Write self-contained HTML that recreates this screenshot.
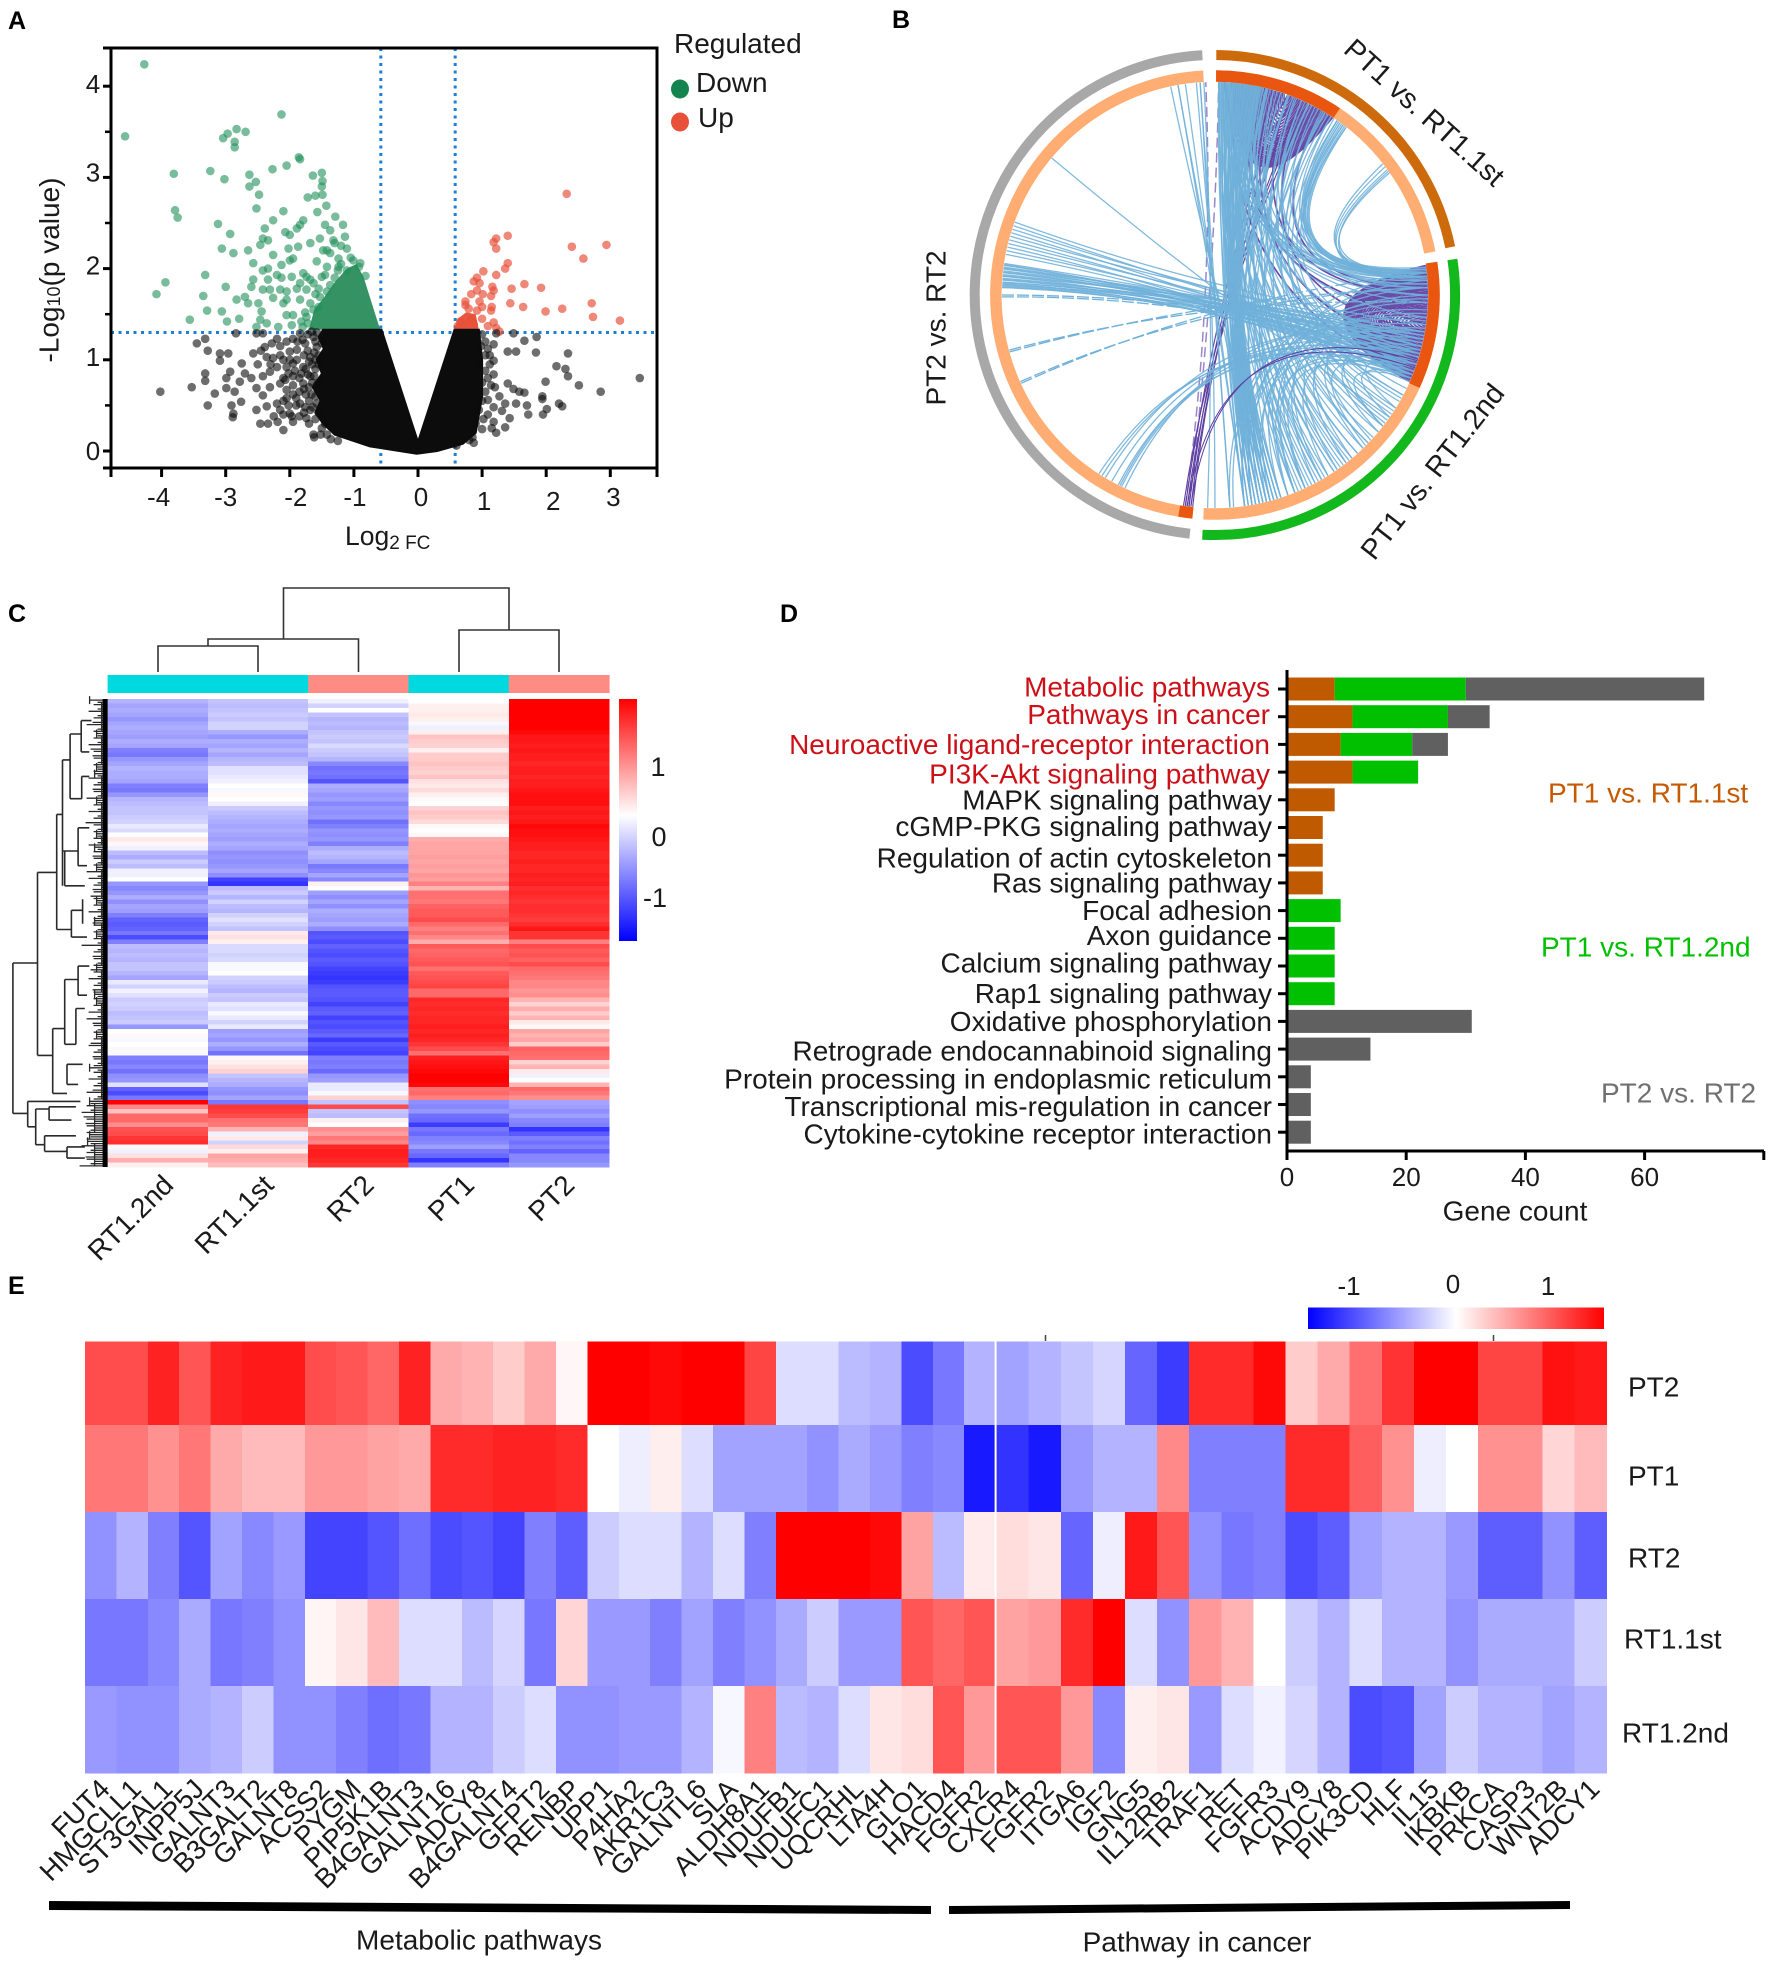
<!DOCTYPE html>
<html lang="en">
<head>
<meta charset="utf-8">
<title>Multi-panel transcriptome figure</title>
<style>
html,body{margin:0;padding:0;background:#fff;}
svg{display:block;}
text{font-family:"Liberation Sans",sans-serif;fill:#1a1a1a;}
.letter{font-weight:bold;font-size:25px;fill:#000;}
</style>
</head>
<body>
<svg id="figure" xmlns="http://www.w3.org/2000/svg" width="1772" height="1963" viewBox="0 0 1772 1963">
<defs>
<linearGradient id="barC" x1="0" y1="0" x2="0" y2="1"><stop offset="0" stop-color="#ff0000"/><stop offset="0.48" stop-color="#ffffff"/><stop offset="1" stop-color="#0000ff"/></linearGradient>
<linearGradient id="barE" x1="0" y1="0" x2="1" y2="0"><stop offset="0" stop-color="#0000ff"/><stop offset="0.5" stop-color="#ffffff"/><stop offset="1" stop-color="#ff0000"/></linearGradient>
</defs>
<rect x="0" y="0" width="1772" height="1963" fill="#fff"/>
<text class="letter" x="8" y="29">A</text>
<text class="letter" x="892" y="28">B</text>
<text class="letter" x="8" y="622">C</text>
<text class="letter" x="780" y="622">D</text>
<text class="letter" x="8" y="1294">E</text>

<g id="panelA">
  <text x="49" y="270" font-size="28" text-anchor="middle" dominant-baseline="central" transform="rotate(-90 49 270)">-Log<tspan font-size="18" dy="5">10</tspan><tspan dy="-5">(p value)</tspan></text>
  <text x="345" y="545" font-size="26.5">Log<tspan font-size="19" dy="4">2 FC</tspan></text>
  <text x="674" y="53" font-size="28">Regulated</text>
  <ellipse cx="680" cy="89" rx="9" ry="9.5" fill="#14834f"/>
  <text x="696" y="92" font-size="28">Down</text>
  <ellipse cx="680" cy="122" rx="9" ry="9.5" fill="#e8503a"/>
  <text x="698" y="127" font-size="28">Up</text>
</g>
<g id="panelB">
  <text x="1424" y="113" font-size="28.5" text-anchor="middle" dominant-baseline="central" transform="rotate(42 1424 113)">PT1 vs. RT1.1st</text>
  <text x="1433" y="472" font-size="28.5" text-anchor="middle" dominant-baseline="central" transform="rotate(-52 1433 472)">PT1 vs. RT1.2nd</text>
  <text x="936" y="328" font-size="28" text-anchor="middle" dominant-baseline="central" transform="rotate(-90 936 328)">PT2 vs. RT2</text>
</g>
<g id="panelC">
  <rect x="619" y="699" width="18" height="242" fill="url(#barC)"/>
  <text x="658" y="767" font-size="27" text-anchor="middle" dominant-baseline="central">1</text>
  <text x="659" y="837" font-size="27" text-anchor="middle" dominant-baseline="central">0</text>
  <text x="655" y="898" font-size="27" text-anchor="middle" dominant-baseline="central">-1</text>
</g>
<g id="panelD">
  <text x="1515" y="1211" font-size="28" text-anchor="middle" dominant-baseline="central">Gene count</text>
  <text x="1548" y="793" font-size="28" style="fill:#c55a00" dominant-baseline="central">PT1 vs. RT1.1st</text>
  <text x="1541" y="947" font-size="28" style="fill:#00c000" dominant-baseline="central">PT1 vs. RT1.2nd</text>
  <text x="1601" y="1093" font-size="28" style="fill:#707070" dominant-baseline="central">PT2 vs. RT2</text>
</g>
<g id="panelE">
  <rect x="1308" y="1307.5" width="296" height="21.5" fill="url(#barE)"/>
  <text x="1349" y="1286" font-size="26" text-anchor="middle" dominant-baseline="central">-1</text>
  <text x="1453" y="1284" font-size="26" text-anchor="middle" dominant-baseline="central">0</text>
  <text x="1548" y="1286" font-size="26" text-anchor="middle" dominant-baseline="central">1</text>
  <line x1="1045.5" y1="1335" x2="1045.5" y2="1341" stroke="#444" stroke-width="1.5"/>
  <line x1="1493.5" y1="1335" x2="1493.5" y2="1341" stroke="#444" stroke-width="1.5"/>
  <polygon points="49,1901 931,1906 931,1914 49,1910" fill="#000"/>
  <polygon points="949,1906 1570,1901 1570,1909 949,1914" fill="#000"/>
  <text x="479" y="1940" font-size="28" text-anchor="middle" dominant-baseline="central">Metabolic pathways</text>
  <text x="1197" y="1942" font-size="28" text-anchor="middle" dominant-baseline="central">Pathway in cancer</text>
</g>
</svg>
<script>
/* ---------- Panel A data: [log2 fold change, -log10 p] ---------- */
const xTickValuesA=[-4,-3,-2,-1,0,1,2,3];
const yTickValuesA=[0,1,2,3,4];
const thresholdFC=[-0.58,0.58];
const thresholdP=[1.3];
const downRegulated=[[-4.27,4.24],[-4.57,3.45],[-2.13,3.69],[-2.83,3.53],[-2.69,3.5],[-2.97,3.48],[-3.04,3.43],[-2.86,3.39],[-2.86,3.33],[-1.86,3.22],[-1.84,3.2],[-2.05,3.13],[-2.27,3.09],[-3.24,3.07],[-3.81,3.04],[-3.02,2.98],[-2.63,3.03],[-1.64,3.02],[-1.5,3.05],[-1.49,2.96],[-2.53,2.95],[-2.63,2.9],[-1.5,2.9],[-2.48,2.81],[-1.72,2.78],[-1.6,2.8],[-1.49,2.81],[-2.52,2.66],[-1.43,2.69],[-2.1,2.63],[-1.57,2.62],[-1.29,2.57],[-1.17,2.48],[-1.45,2.48],[-1.37,2.42],[-1.32,2.31],[-1.14,2.35],[-1.53,2.33],[-1.68,2.28],[-1.48,2.2],[-1.42,2.2],[-1.11,2.22],[-1.37,2.17],[-1.24,2.11],[-1.01,2.09],[-1.58,2.08],[-1.42,2.02],[-1.45,1.93],[-1.24,2.02],[-1.11,1.98],[-1.79,1.95],[-1.74,1.91],[-1.68,1.88],[-1.84,1.84],[-1.63,1.84],[-1.74,1.77],[-1.89,1.78],[-2.05,1.75],[-2.15,1.77],[-2.31,1.77],[-2.42,1.77],[-2.05,1.66],[-2.1,1.62],[-1.84,1.66],[-2.26,1.68],[-2.49,1.62],[-2.65,1.62],[-2.7,1.69],[-2.83,1.66],[-2.44,1.53],[-2.46,1.44],[-2.98,1.42],[-2.36,1.4],[-2.52,1.36],[-2.18,1.36],[-1.97,1.38],[-2.05,1.49],[-1.95,1.49],[-1.74,1.47],[-1.68,1.62],[-1.63,1.55],[-1.53,1.69],[-1.37,1.82],[-1.5,1.91],[-2.0,2.09],[-1.95,2.11],[-2.13,2.04],[-2.26,2.15],[-2.02,2.22],[-1.87,2.24],[-2.2,1.93],[-2.13,1.9],[-1.97,1.91],[-2.34,1.88],[-2.42,1.98],[-2.34,2.0],[-2.57,2.06],[-1.89,2.44],[-1.79,2.53],[-1.84,2.48],[-2.26,2.53],[-2.39,2.44],[-2.07,2.4],[-2.0,2.37],[-2.42,2.33],[-2.34,2.31],[-2.46,2.26],[-2.65,2.2],[-2.88,2.17],[-2.93,2.38],[-3.12,2.49],[-3.06,2.22],[-3.32,1.93],[-3.94,1.85],[-4.08,1.72],[-3.0,1.8],[-3.35,1.7],[-3.29,1.54],[-3.06,1.53],[-3.56,1.44],[-2.79,1.45],[-2.6,1.8],[-2.57,1.88],[-3.79,2.64],[-3.75,2.56],[-1.3,1.9],[-1.2,2.05],[-1.05,2.12],[-0.92,2.02],[-1.55,1.58],[-1.72,1.4],[-1.8,1.36],[-0.82,1.92],[-1.3,2.28],[-1.2,2.25],[-1.42,1.75],[-1.55,1.78],[-1.82,1.42],[-1.76,1.52],[-1.6,1.72],[-1.25,1.98],[-0.9,2.06]];
const upRegulated=[[2.32,2.82],[2.94,2.26],[2.4,2.24],[2.58,2.11],[1.4,2.36],[1.22,2.33],[1.18,2.29],[1.22,2.22],[1.4,2.06],[1.36,2.0],[1.22,1.93],[1.02,1.97],[0.92,1.9],[0.87,1.86],[0.96,1.84],[1.66,1.83],[1.92,1.79],[1.46,1.78],[1.16,1.8],[1.18,1.76],[0.92,1.76],[0.83,1.72],[1.01,1.72],[1.14,1.7],[2.71,1.62],[1.44,1.62],[1.64,1.58],[2.25,1.56],[1.99,1.53],[2.73,1.47],[3.15,1.43],[0.74,1.64],[0.74,1.6],[0.96,1.64],[1.0,1.58],[1.15,1.58],[1.14,1.54],[0.79,1.56],[0.92,1.54],[0.66,1.42],[0.83,1.45],[1.0,1.45],[1.18,1.41],[1.22,1.35],[0.62,1.37],[0.74,1.39],[0.87,1.39],[1.09,1.37],[1.27,1.31]];
const notSignificant=[[-2.57,1.07],[-2.36,1.03],[-2.26,1.02],[-2.05,.92],[-1.95,.96],[-2.15,.74],[-2.31,.7],[-2.52,.69],[-2.42,.61],[-2.05,.67],[-1.79,.74],[-1.84,.52],[-1.68,.45],[-2.2,.52],[-2,.41],[-2.36,.49],[-2.15,.45],[-2.46,.3],[-2.34,.3],[-2.1,.23],[-1.95,.32],[-1.74,.36],[-1.63,.18],[-1.42,.18],[-2.93,.87],[-2.99,.8],[-2.75,.96],[-2.7,.85],[-2.78,.76],[-2.6,.8],[-2.99,.69],[-2.86,.65],[-3.17,.63],[-3.53,.7],[-4.02,.65],[-3.28,.5],[-2.91,.5],[-2.76,.54],[-2.88,.41],[-2.89,.37],[-2.52,.45],[-3.32,.85],[-3.32,.77],[-3.28,1.1],[-3.45,1.18],[-3.32,1.23],[-3.09,1.07],[-2.96,1.07],[-3.09,.99],[-2.84,1.29],[-2.52,1.29],[-2.42,1.29],[-2.2,1.23],[-2.28,1.18],[-2.39,1.14],[-2.05,1.2],[-1.95,1.23],[-1.84,1.29],[-1.76,1.18],[-1.63,1.25],[-1.89,1.11],[-2,1.09],[-2.1,1.0],[-1.89,1.0],[-1.79,.92],[-1.68,1.03],[-1.58,1.14],[-1.68,.82],[-1.95,.82],[-2.31,.87],[-2.42,.82],[-2.07,.78],[-2.2,.92],[-2.5,.95],[-2.45,1.1],[-2.3,.95],[-2.15,1.05],[-2.15,1.15],[-1.95,.72],[-1.85,.8],[-1.85,.65],[-2.05,.58],[-1.9,.5],[-1.85,.38],[-1.75,.62],[-1.7,.55],[-1.7,.7],[-1.75,.9],[-1.72,1.1],[-1.65,.95],[-1.65,.75],[-1.6,1.2],[-1.55,1.05],[-2.1,.4],[-2.25,.38],[-2.1,.55],[-1.6,.35],[-1.5,.25],[-1.45,.3],[-2.19,.32],[-1.97,.38],[-1.62,.15],[-1.72,1.28],[-1.66,1.31],[-1.58,1.3],[-1.78,1.05],[-1.62,1.08],[-1.7,.98],[-1.6,.9],[-1.72,.84],[-1.62,.82],[-1.78,.68],[-1.66,.62],[-1.6,.6],[-1.76,.48],[-1.64,.48],[-1.58,.72],[-1.52,.18],[-1.36,.13],[-1.25,.11],[-1.8,1.22],[-1.88,1.2],[-1.92,.88],[-1.82,.85],[-1.9,.58],[-1.95,.62],[-1.78,.42],[-1.7,.3],[-1.55,.95],[-1.6,1.0],[-1.55,.75],[-1.5,1.18],[-1.55,.42],[-1.58,.52],[-2.0,1.0],[-2.02,.85],[-2.1,.8],[-2.02,.5],[1.49,1.29],[1.66,1.21],[1.85,1.25],[1.84,1.08],[2.34,1.07],[1.4,1.09],[1.53,1.09],[1.22,1.29],[1.18,1.17],[1.09,1.12],[1.18,0.99],[1.05,0.88],[2.16,0.93],[2.3,0.9],[2.34,0.82],[1.99,0.76],[3.46,0.8],[2.51,0.72],[2.85,0.65],[1.4,0.74],[1.49,0.68],[1.66,0.64],[1.58,0.65],[1.53,0.52],[1.94,0.6],[1.94,0.57],[2.2,0.52],[2.25,0.49],[2.01,0.46],[1.95,0.4],[1.7,0.5],[1.72,0.4],[1.43,0.36],[1.31,0.44],[1.36,0.26],[1.18,0.32],[1.22,0.2],[0.87,0.09],[1.0,0.24],[1.09,0.56],[1.14,0.72],[1.18,0.48],[1.27,0.6],[1.36,0.52],[1.09,0.4],[1.18,0.84],[1.09,0.8],[1.05,1.2],[1.12,1.05],[1.05,0.65],[1.02,0.35],[.95,.95],[1.0,.75],[.95,.45],[.9,.3],[.85,.15],[1.0,.55],[1.05,1.05],[1,1.28],[.98,1.15],[.8,.12],[.6,.06],[1.12,.95],[1.2,.7],[1.15,.25]];
const denseNotSignificant=[[-0.57,1.33],[0,0.1],[0.57,1.33],[0.95,1.33],[1.0,1.0],[1.0,0.6],[0.9,0.2],[0.7,0.08],[0.3,0],[-0.02,-0.03],[-0.75,0.05],[-1.3,0.18],[-1.48,0.3],[-1.6,0.42],[-1.52,0.55],[-1.64,0.7],[-1.5,0.85],[-1.58,1.0],[-1.47,1.12],[-1.55,1.25],[-1.48,1.33]];
const denseDown=[[-1.7,1.33],[-1.62,1.55],[-1.45,1.7],[-1.3,1.85],[-1.11,2.0],[-0.96,2.05],[-0.85,1.91],[-0.72,1.62],[-0.59,1.33]];
const denseUp=[[0.57,1.33],[0.62,1.45],[0.75,1.52],[0.9,1.5],[0.95,1.33]];

/* ---------- Panel B data: sector extents and gene links, in degrees clockwise from 12 o'clock ---------- */
const outerSectorStart=[0.3,81.5,186];
const outerSectorEnd=[78.5,183,357];
const outerSectorColor=['#cc6a0c','#12b81c','#a8a8a8'];
const peachSectorStart=[0.3,81.5,185.8];
const peachSectorEnd=[78.8,183,357];
const sharedSectorStart=[0.3,81.5,185.8];
const sharedSectorEnd=[33.8,114.4,189.4];
const purpleLinks=[[19,20.5],[18.5,21],[18,21.5],[17.5,22],[17,22.5],[16.5,23],[16,23.5],[15.5,24],[15,24.5],[14.5,25],[14,25.5],[13.5,26],[13,26.5],[12.5,27],[12,27.5],[11.5,28],[11,28.5],[10.5,29],[10,29.5],[9.5,30],[9,30.5],[8.5,31],[8,31.5],[7.5,32],[7,32.5],[6.5,33],[6,33.5],[5.5,33.2],[5,32.8],[3,25],[5,22],[2.5,18],[4.5,28],[8,33],[11,31],[14,29],[6.5,20],[9.5,22],[12.5,30],[97.5,98.5],[97,99],[96.5,99.5],[96,100],[95.5,100.5],[95,101],[94.5,101.5],[94,102],[93.5,102.5],[93,103],[92.5,103.5],[92,104],[91.5,104.5],[91,105],[90.5,105.5],[90,106],[89.5,106.5],[89,107],[88.5,107.5],[88,108],[87.5,108.5],[87,109],[86.5,109.5],[86,110],[85.5,110.5],[85,111],[84.5,111.5],[84,112],[83.5,112.5],[83,113],[82.5,113.5],[82,114],[84,100],[86,96],[83,106],[88,112],[91,110],[94,108],[97,106],[85,103],[87,113],[92,113],[89,101],[82.5,95],[83,90],[84,92],[85,94],[83.5,98],[84.5,105],[85.5,108],[20,90],[25,100],[15,105],[30,88],[10,95],[5,112]];
const darkPurpleLinks=[[186,22],[186.5,24],[187,20],[187.5,26],[188,18],[188.5,25]];
const purpleArcLinks=[[186.5,108],[187.5,110]];
const dashedPurpleLinks=[[187,1],[188,357.5]];
const blueLinks=[[1,170],[1.3,166],[1.6,172],[1.9,164],[2.2,168],[2.5,171],[2.8,163],[3.1,167],[3.4,169],[3.7,165],[4,172],[4.3,162],[4.6,168],[4.9,166],[5.2,170],[5.5,164],[5.8,167],[6.1,171],[6.4,163],[6.7,169],[7,165],[7.3,168],[7.6,166],[7.9,170],[8.2,162],[8.5,167],[8.8,164],[9.1,169],[9.4,165],[9.7,171],[10,163],[10.3,168],[10.6,166],[10.9,170],[11.2,164],[11.5,167],[11.8,169],[12.1,165],[12.4,163],[1.2,158],[1.8,152],[2.4,146],[3,156],[3.6,140],[4.2,150],[4.8,134],[5.4,155],[6,144],[6.6,128],[7.2,153],[7.8,138],[8.4,148],[9,124],[9.6,157],[10.2,142],[10.8,132],[11.4,151],[12,120],[12.6,146],[13.2,136],[13.8,155],[14.4,126],[15,149],[16,141],[17,118],[18,154],[19,130],[20,145],[21.5,122],[22.5,138],[24,116],[25,150],[27,127],[29,143],[30.5,119],[32,134],[33,123],[14,167],[14.2,165],[20,168],[20.2,164],[20.4,170],[26,166],[26.2,162],[31,160],[31.2,158],[2,85],[3,87],[4,84],[5,90],[6,86],[7,83],[8,92],[9,88],[10,84],[11,96],[12,86],[13,104],[14,110],[16,85],[18,112],[22,84],[24,87],[26,108],[28,83],[30,85],[33,84],[34,83],[35,84],[35.5,83.5],[36,82.5],[36.5,85],[37,83],[37.5,84],[38,83],[36,88],[37,112],[38,106],[35,90],[35,118],[52,84],[53,85],[54,86],[54.5,84],[55,85.5],[100,140],[104,136],[108,130],[112,125],[95,150],[90,155],[86,160],[98,145],[102,152],[106,142],[110,135],[113,128],[88,168],[92,162],[84,172],[96,158],[103,165],[107,170],[111,148],[105,128],[109,122],[99,133],[112,160],[113,155],[110,158],[109,166],[101,172],[97,175],[94,170],[91,176],[272,112],[272.5,110],[273,113],[273.5,108],[274,111],[274.5,106],[275,112],[275.5,104],[276,109],[276.5,102],[277,110],[277.5,105],[278,107],[278.5,103],[272.2,113],[272.8,105],[273.3,102],[274.2,104],[275.2,100],[276.2,108],[277.2,101],[278.2,112],[281,110],[282,106],[283,112],[284,104],[285,108],[286,100],[287,110],[288,102],[289,106],[290,98],[310,125],[348,165],[350,172],[356,176],[182,357],[180,356],[176,355],[172,352],[168,350],[206,112],[206.5,108],[207,114],[209,106],[212,110],[211,101],[213,113],[205,100]];
const dashedBlueLinks=[[270,104],[269.5,108],[255,92],[254.5,88],[246,88],[245.5,84]];

/* ---------- Panel C data ---------- */
const sampleNamesC=['RT1.2nd','RT1.1st','RT2','PT1','PT2'];
const sampleGroupC=['RT','RT','RT2','PT1','PT2'];
const rowsC=[[-.5,-.4,-.1,0,1.7],[-.6,-.45,-.3,.1,1.7],[-.55,-.4,0,.1,1.7],[-.6,-.35,-.4,.15,1.7],[-.7,-.4,-.5,.1,1.7],[-.6,-.3,-.45,-.05,1.7],[-.55,-.3,-.5,-.1,1.7],[-.6,-.55,-.4,.1,1.65],[-.65,-.7,-.35,.4,1.55],[-.55,-.55,-.4,.35,1.55],[-.6,-.6,-.25,.3,1.5],[-.85,-.5,-.35,.1,1.55],[-.9,-.6,-.4,.35,1.5],[-.7,-.5,-.5,.35,1.5],[-.6,-.45,-.8,.4,1.45],[-.5,-.2,-.95,.35,1.5],[-.55,-.2,-.9,.3,1.5],[-.55,-.15,-.95,.4,1.45],[-.6,-.1,-1.15,.2,1.5],[-.85,0,-.55,.15,1.5],[-.9,-.05,-.6,.25,1.55],[-.7,.05,-.7,.1,1.6],[-.5,0,-.65,.05,1.6],[-.45,-.1,-.8,0,1.6],[-.4,-.35,-.7,.3,1.5],[-.4,-.45,-.75,.4,1.55],[-.35,-.5,-.7,.35,1.5],[-.3,-.55,-.95,.25,1.55],[-.15,-.6,-.85,.05,1.65],[-.25,-.55,-.7,0,1.6],[0,-.6,-.75,.05,1.6],[.15,-.65,-.7,.55,1.55],[.05,-.55,-.85,.6,1.5],[-.1,-.6,-.55,.6,1.5],[-.45,-.75,-.45,.6,1.45],[-.55,-.7,-.5,.65,1.45],[-.35,-.75,-.6,.6,1.5],[-.45,-.7,-.9,.65,1.45],[-.1,-.6,-.8,.6,1.45],[-.1,-.75,-.6,.7,1.5],[0,-1.25,-.8,.65,1.45],[-.7,-1.35,.1,.85,1.5],[-.8,-.45,0,.5,1.4],[-.7,-.35,-.65,.95,1.45],[-.55,-.5,-.75,.95,1.4],[-.75,-.3,-.6,.9,1.35],[-.6,-.45,-.75,1.05,1.4],[-.65,-.5,-.55,1.1,1.4],[-.85,-.3,-.6,1.1,1.35],[-1.05,-.2,-.65,1.2,1.3],[-1.1,-.3,-.55,1,1.4],[-1.05,-.4,-.75,.85,1.55],[-.9,.15,-1.15,.95,1.35],[-1.2,.2,-1.1,.8,1.35],[-.85,.1,-1.2,.55,.85],[-.45,-.25,-1.05,1.1,1.2],[-.5,-.25,-1.15,1,1.1],[-.45,-.3,-1.2,1.05,1.15],[-.5,-.25,-1.1,1.1,1.05],[-.4,-.05,-1.15,1.15,1.2],[-.4,-.05,-1.25,.95,1],[-.5,0,-1.3,1.1,.95],[-.6,-.3,-1.35,1.15,.9],[-.15,-.35,-1.3,1.2,.8],[-.3,-.45,-1.15,1.25,.8],[-.1,-.5,-1.1,1,.7],[-.2,-.35,-1.1,1,.75],[-.35,-.4,-1.15,1.45,.5],[-.3,-.15,-1.25,1.4,.3],[-.35,-.2,-1.1,1.45,.55],[-.45,-.05,-1.05,1.4,.35],[-.4,-.15,-1.25,1.45,.5],[-.35,-.3,-1.15,1.45,.15],[-.7,-.15,-1.2,1.5,.05],[0,-.65,-1.1,1.45,.6],[.05,-.6,-1,1.5,.5],[-.05,-.7,-1.3,1.45,.6],[0,-.55,-1.1,1.35,.35],[.05,-.7,-1.2,1.2,1.05],[-.05,-.95,-1.25,.95,1],[-.85,.05,-.85,1.5,.95],[-.9,.1,-.9,1.55,.3],[-.8,.2,-.85,1.6,.5],[-.95,.3,-1,1.65,.15],[-.75,-.4,-.7,1.7,-.1],[-.7,-.5,-.65,1.7,0],[-.2,-.55,-.15,1.65,.5],[-1.05,-.7,-.15,.95,1],[-1.2,-.75,-.05,1,.9],[-.9,-.6,.3,.85,.75],[1.7,-.9,-.4,-.75,-.6],[.8,1.35,1.2,-.8,-.65],[.4,1.3,-.4,-.7,-.75],[1,1.2,-.45,-.95,-.65],[1,.95,.1,-1,-.8],[.75,.9,0,-1.3,-.85],[1.15,.5,.75,-.9,-1.35],[1.2,-.1,.65,-1,-1.1],[1.35,.15,.9,-.85,-.85],[1.4,-.3,.8,-.8,-.95],[.05,.25,1.45,-.65,-.85],[-.1,.1,1.5,-.9,-1.05],[.2,.6,1.5,-1,-.8],[.55,.55,1.45,-1.35,-.8],[.1,.45,1.35,-.85,-.7]];

/* ---------- Panel D data ---------- */
const pathwayNames=['Metabolic pathways','Pathways in cancer','Neuroactive ligand-receptor interaction','PI3K-Akt signaling pathway','MAPK signaling pathway','cGMP-PKG signaling pathway','Regulation of actin cytoskeleton','Ras signaling pathway','Focal adhesion','Axon guidance','Calcium signaling pathway','Rap1 signaling pathway','Oxidative phosphorylation','Retrograde endocannabinoid signaling','Protein processing in endoplasmic reticulum','Transcriptional mis-regulation in cancer','Cytokine-cytokine receptor interaction'];
const countsPT1vsRT11=[8,11,9,11,8,6,6,6,0,0,0,0,0,0,0,0,0];
const countsPT1vsRT12=[22,16,12,11,0,0,0,0,9,8,8,8,0,0,0,0,0];
const countsPT2vsRT2=[40,7,6,0,0,0,0,0,0,0,0,0,31,14,4,4,4];
const xTickValuesD=[0,20,40,60,80];
const xTickLabelsD=['0','20','40','60',''];

/* ---------- Panel E data ---------- */
const geneNames=['FUT4','HMGCLL1','ST3GAL1','INPP5J','GALNT3','B3GALT2','GALNT8','ACSS2','PYGM','PIP5K1B','B4GALNT3','GALNT16','ADCY8','B4GALNT4','GFPT2','RENBP','UPP1','P4HA2','AKR1C3','GALNTL6','SLA','ALDH8A1','NDUFB1','NDUFC1','UQCRHL','LTA4H','GLO1','HACD4','FGFR2','CXCR4','FGFR2','ITGA6','IGF2','GNG5','IL12RB2','TRAF1','RET','FGFR3','ACDY9','ADCY8','PIK3CD','HLF','IL15','IKBKB','PRKCA','CASP3','WNT2B','ADCY1'];
const sampleNamesE=['PT2','PT1','RT2','RT1.1st','RT1.2nd'];
const exprPT2=[1.05,1.05,1.3,1.0,1.3,1.35,1.35,1.05,1.0,.9,1.3,.5,.45,.3,.5,.05,1.5,1.5,1.45,1.5,1.5,1.1,-.2,-.2,-.4,-.45,-1.05,-.8,-.45,-.55,-.45,-.35,-.25,-.9,-1.15,1.25,1.25,1.45,.3,.5,.85,1.2,1.5,1.5,1.1,1.1,1.4,1.35];
const exprPT1=[.8,.8,.65,.8,.5,.4,.4,.6,.6,.55,.5,1.25,1.25,1.3,1.3,1.25,0,-.1,.1,-.2,-.55,-.55,-.55,-.65,-.5,-.6,-.75,-.7,-1.35,-1.2,-1.35,-.6,-.45,-.45,.7,-.75,-.75,-.75,1.25,1.25,.95,.65,-.1,0,.65,.65,.25,.4];
const exprRT2=[-.65,-.45,-.75,-1,-.55,-.7,-.6,-1.1,-1.1,-1,-.85,-1.05,-1,-1.1,-.75,-.95,-.3,-.2,-.2,-.45,-.2,-.75,1.5,1.5,1.5,1.45,.55,-.4,.12,.2,.15,-.9,-.1,1.35,1,-.65,-.8,-.75,-1.05,-.95,-.55,-.45,-.45,-.6,-.95,-.95,-.65,-.95];
const exprRT11=[-.8,-.8,-.7,-.5,-.8,-.75,-.65,.06,.15,.4,-.2,-.2,-.4,-.25,-.8,.25,-.6,-.6,-.75,-.55,-.75,-.65,-.5,-.3,-.6,-.6,1,.9,1,.55,.6,1.25,1.5,-.2,-.65,.6,.45,0,-.3,-.45,-.2,-.45,-.45,-.65,-.5,-.5,-.5,-.3];
const exprRT12=[-.6,-.65,-.65,-.5,-.45,-.3,-.65,-.65,-.75,-.85,-.8,-.45,-.45,-.3,-.2,-.65,-.65,-.6,-.6,-.45,-.05,.75,-.4,-.45,-.2,.15,.2,1,.6,1,1,.6,-.7,.1,.15,-.6,-.2,-.08,-.25,-.45,-1.05,-1,-.55,-.3,-.45,-.45,-.55,-.45];

/* ---------- helpers ---------- */
const NS='http://www.w3.org/2000/svg';
function add(parent,tag,attrs,txt){
  const e=document.createElementNS(NS,tag);
  for(const k in attrs)e.setAttribute(k,attrs[k]);
  if(txt!=null)e.textContent=txt;
  parent.appendChild(e);
  return e;
}
function heatColor(v,m){
  const t=Math.max(-1,Math.min(1,v/m));
  const c=Math.round(255*(1-Math.abs(t)));
  return t>=0?'rgb(255,'+c+','+c+')':'rgb('+c+','+c+',255)';
}

/* ---------- Panel A ---------- */
(function(){
  const g=document.getElementById('panelA');
  const vx=v=>418+64.1*v, vy=v=>451-91.2*v;
  const L=111,R=657,T=48,B=468;
  const poly=(pts)=>pts.map(p=>vx(p[0]).toFixed(1)+','+vy(p[1]).toFixed(1)).join(' ');
  thresholdFC.forEach(v=>{
    const el=add(g,'line',{x1:vx(v),x2:vx(v),y1:T,y2:B,stroke:'#1e7fd8','stroke-width':3,'stroke-dasharray':'3 4.5'});
    
    
  });
  thresholdP.forEach(v=>{
    const el=add(g,'line',{x1:L,x2:R,y1:vy(v),y2:vy(v),stroke:'#1e7fd8','stroke-width':3,'stroke-dasharray':'3 4.5'});
    
    
  });
  const d2=add(g,'polygon',{points:poly(denseDown),fill:'#2a8d5b','fill-opacity':.95});
  
  
  downRegulated.forEach(p=>{
    const el=add(g,'circle',{cx:vx(p[0]),cy:vy(p[1]),r:4.3,fill:'#1f8f5a','fill-opacity':.6});
    
    
  });
  const d3=add(g,'polygon',{points:poly(denseUp),fill:'#e8573f'});
  
  
  upRegulated.forEach(p=>{
    const el=add(g,'circle',{cx:vx(p[0]),cy:vy(p[1]),r:4.3,fill:'#e8503a','fill-opacity':.68});
    
    
  });
  const d1=add(g,'polygon',{points:poly(denseNotSignificant),fill:'#0c0c0c',stroke:'#0c0c0c','stroke-width':2});
  
  
  notSignificant.forEach(p=>{
    const el=add(g,'circle',{cx:vx(p[0]),cy:vy(p[1]),r:4.3,fill:'#0c0c0c','fill-opacity':.6});
    
    
  });
  const frame=add(g,'path',{d:'M'+L+' '+B+'V'+T+'H'+R+'V'+B+'H'+L,fill:'none',stroke:'#000','stroke-width':3});
  
  
  [T,B].forEach(py=>{
    const t=add(g,'line',{x1:L-8,x2:L,y1:py,y2:py,stroke:'#000','stroke-width':3});
    
    
  });
  const yNudge=[0,-3,-3,-5,-2];
  yTickValuesA.forEach((v,i)=>{
    const t=add(g,'line',{x1:L-8,x2:L,y1:vy(v),y2:vy(v),stroke:'#000','stroke-width':3});
    
    
    if(v<4){
      const m=add(g,'line',{x1:L-6,x2:L,y1:vy(v+.5),y2:vy(v+.5),stroke:'#000','stroke-width':2.5});
      
      
    }
    const x=add(g,'text',{x:93,y:vy(v)+yNudge[i],'font-size':26,'text-anchor':'middle','dominant-baseline':'central'},String(v));
    
    
  });
  const xLabelNudgeX=[-3,0,6,1,3,2,7,3], xLabelNudgeY=[0,0,0,0,0,4,4,0];
  xTickValuesA.forEach((v,i)=>{
    const t=add(g,'line',{x1:vx(v),x2:vx(v),y1:B,y2:B+9,stroke:'#000','stroke-width':3});
    
    
    const x=add(g,'text',{x:vx(v)+xLabelNudgeX[i],y:497+xLabelNudgeY[i],'font-size':26,'text-anchor':'middle','dominant-baseline':'central'},String(v));
    
    
  });
  [L,R].forEach(px=>{
    const t=add(g,'line',{x1:px,x2:px,y1:B,y2:B+9,stroke:'#000','stroke-width':3});
    
    
  });
})();

/* ---------- Panel B ---------- */
(function(){
  const g=document.getElementById('panelB');
  const cx=1215,cy=295,R=213;
  const pt=(a,r)=>{const t=a*Math.PI/180;return [cx+r*Math.sin(t),cy-r*Math.cos(t)];};
  const arc=(a0,a1,r)=>{
    const p=pt(a0,r),q=pt(a1,r);
    return 'M'+p[0].toFixed(1)+' '+p[1].toFixed(1)+'A'+r+' '+r+' 0 '+((a1-a0)>180?1:0)+' 1 '+q[0].toFixed(1)+' '+q[1].toFixed(1);
  };
  const linkPath=(a,b)=>{
    const p=pt(a,R),q=pt(b,R);
    let d=Math.abs(a-b); if(d>180)d=360-d;
    const cr=R*Math.exp(-d/24);
    const ax=p[0]+q[0]-2*cx, ay=p[1]+q[1]-2*cy, n=Math.hypot(ax,ay)||1;
    const c=[cx+ax/n*cr,cy+ay/n*cr];
    return 'M'+p[0].toFixed(1)+' '+p[1].toFixed(1)+'Q'+c[0].toFixed(1)+' '+c[1].toFixed(1)+' '+q[0].toFixed(1)+' '+q[1].toFixed(1);
  };
  purpleLinks.forEach(l=>{
    const el=add(g,'path',{d:linkPath(l[0],l[1]),fill:'none',stroke:'#6a4aa8','stroke-width':1.7});
    
    
  });
  dashedPurpleLinks.forEach(l=>{
    const el=add(g,'path',{d:linkPath(l[0],l[1]),fill:'none',stroke:'#9a86c8','stroke-width':1.5,'stroke-dasharray':'10 5'});
    
    
  });
  darkPurpleLinks.forEach(l=>{
    const el=add(g,'path',{d:linkPath(l[0],l[1]),fill:'none',stroke:'#5d3ea0','stroke-width':1.1});
    
    
  });
  blueLinks.forEach(l=>{
    const el=add(g,'path',{d:linkPath(l[0],l[1]),fill:'none',stroke:'#6fb1da','stroke-width':1.3,'stroke-opacity':.88});
    
    
  });
  dashedBlueLinks.forEach(l=>{
    const el=add(g,'path',{d:linkPath(l[0],l[1]),fill:'none',stroke:'#6fb1da','stroke-width':1.3,'stroke-dasharray':'12 3'});
    
    
  });
  purpleArcLinks.forEach(l=>{
    const el=add(g,'path',{d:linkPath(l[0],l[1]),fill:'none',stroke:'#5d3ea0','stroke-width':1});
    
    
  });
  outerSectorStart.forEach((s,i)=>{
    const el=add(g,'path',{d:arc(s,outerSectorEnd[i],240),fill:'none',stroke:outerSectorColor[i],'stroke-width':10});
    
    
  });
  peachSectorStart.forEach((s,i)=>{
    const el=add(g,'path',{d:arc(s,peachSectorEnd[i],219),fill:'none',stroke:'#ffad72','stroke-width':11.5});
    
    
  });
  sharedSectorStart.forEach((s,i)=>{
    const el=add(g,'path',{d:arc(s,sharedSectorEnd[i],219),fill:'none',stroke:'#e8560f','stroke-width':11.5});
    
    
  });
})();

/* ---------- Panel C ---------- */
(function(){
  const g=document.getElementById('panelC');
  const L=107.6,T=699,W=100.3,H=468;
  const rowH=H/rowsC.length;
  const colX=i=>L+W*i, rowY=i=>T+rowH*i;
  rowsC.forEach((r,ri)=>{
    r.forEach((v,ci)=>{
      const el=add(g,'rect',{x:colX(ci),y:rowY(ri),width:W+.5,height:rowH+.4,fill:heatColor(v,1.7),'shape-rendering':'crispEdges'});
      
      
    });
  });
  const annotColor={RT:'#00d9e0',RT2:'#ff8c84',PT1:'#00d9e0',PT2:'#ff8c84'};
  sampleNamesC.forEach((n,i)=>{
    const a=add(g,'rect',{x:colX(i),y:675,width:W+.5,height:18,fill:annotColor[sampleGroupC[i]]});
    
    
    const tx=colX(i)+W/2+10.5, ty=1180;
    const t=add(g,'text',{x:tx,y:ty,'font-size':28,'text-anchor':'end','dominant-baseline':'central',transform:'rotate(-45 '+tx+' '+ty+')'},n);
    
    
  });
  const colTree='M283.5 639V588H509V630M208 646V639H358.5V672M158 672V646H258V672M459 672V630H559V672';
  const ct=add(g,'path',{d:colTree,fill:'none',stroke:'#333','stroke-width':1.6});
  
  
  const zx=v=>(v*.4464).toFixed(1), zy=v=>(580+v*.4464).toFixed(1);
  const segs=[[29,858,29,1195],[29,858,84,858],[29,1195,62,1195],[84,655,84,1065],[84,655,127,655],[84,1065,118,1065],[127,525,127,783],[127,525,140,525],[127,783,160,783],[140,403,140,685],[140,403,157,403],[140,607,175,607],[145,607,145,685],[145,685,190,685],[157,345,157,490],[157,345,182,345],[157,490,183,490],[182,315,182,385],[182,315,205,315],[182,385,200,385],[183,440,183,490],[183,440,200,440],[175,555,175,640],[175,555,200,555],[175,640,195,640],[160,740,160,800],[160,740,185,740],[160,800,195,800],[185,715,185,770],[118,1005,118,1150],[118,1005,145,1005],[118,1150,150,1150],[145,895,145,1040],[145,895,175,895],[145,1040,170,1040],[175,865,175,930],[175,865,200,865],[175,930,195,930],[170,960,170,1040],[170,960,190,960],[150,1085,150,1130],[150,1085,185,1085],[150,1130,175,1130],[62,1168,62,1225],[62,1168,180,1168],[62,1225,80,1225],[80,1185,80,1265],[80,1185,110,1185],[80,1265,100,1265],[110,1180,110,1210],[110,1180,170,1180],[110,1210,160,1210],[100,1245,100,1280],[100,1245,170,1245],[100,1280,150,1280],[150,1270,150,1295],[150,1270,190,1270],[150,1295,190,1295]];
  let d='';
  segs.forEach(s=>{d+='M'+zx(s[0])+' '+zy(s[1])+'L'+zx(s[2])+' '+zy(s[3]);});
  const tree=add(g,'path',{d:d,fill:'none',stroke:'#2a2a2a','stroke-width':1.6});
  
  
  let lf='';
  const leafCount=rowsC.length*2;
  for(let j=0;j<leafCount;j++){
    const y=T+H*(j+.5)/leafCount;
    const x0=L-6-(j%3)*4-(j%5===0?5:0)-(j%11===0?7:0)-(j>=180?7:0);
    lf+='M'+x0.toFixed(1)+' '+y.toFixed(1)+'H'+L;
    if(j%3===0)lf+='M'+x0.toFixed(1)+' '+(y-4).toFixed(1)+'V'+(y+4).toFixed(1);
  }
  const leaves=add(g,'path',{d:lf,fill:'none',stroke:'#2a2a2a','stroke-width':1.3});
  
  
  const strip=add(g,'rect',{x:L-5,y:T,width:5,height:H,fill:'#000'});
  
  
})();

/* ---------- Panel D ---------- */
(function(){
  const g=document.getElementById('panelD');
  const vx=v=>1287+5.96*v, rowY=i=>689+27.7*i;
  const series=[[countsPT1vsRT11,'#c05a00','bar-pt1-vs-rt1-1st'],[countsPT1vsRT12,'#00c000','bar-pt1-vs-rt1-2nd'],[countsPT2vsRT2,'#606060','bar-pt2-vs-rt2']];
  const labelNudge=[-2,-2,0,2,0,-1,3,0,0,-3,-3,0,0,2,2,2,2];
  pathwayNames.forEach((n,i)=>{
    let acc=0;
    series.forEach(s=>{
      const v=s[0][i];
      if(v>0){
        const el=add(g,'rect',{x:vx(acc),y:rowY(i)-11.5,width:vx(acc+v)-vx(acc),height:23,fill:s[1]});
        
        
      }
      acc+=v;
    });
    const tick=add(g,'line',{x1:1278,x2:1287,y1:rowY(i),y2:rowY(i),stroke:'#000','stroke-width':3});
    
    
    const red=i<4;
    const t=add(g,'text',{x:red?1270:1272,y:rowY(i)+labelNudge[i],'font-size':28,'text-anchor':'end','dominant-baseline':'central'},n);
    
    
    if(red)t.style.fill='#cc1018';
  });
  const ax=add(g,'path',{d:'M1287 670V1151H1764',fill:'none',stroke:'#000','stroke-width':3});
  
  
  xTickValuesD.forEach((v,i)=>{
    const t=add(g,'line',{x1:vx(v),x2:vx(v),y1:1151,y2:1160,stroke:'#000','stroke-width':3});
    
    
    const x=add(g,'text',{x:vx(v),y:1177,'font-size':26,'text-anchor':'middle','dominant-baseline':'central'},xTickLabelsD[i]);
    
    
  });
})();

/* ---------- Panel E ---------- */
(function(){
  const g=document.getElementById('panelE');
  const rows=[exprPT2,exprPT1,exprRT2,exprRT11,exprRT12];
  const colX=i=>i<=29?85+31.4*i:996.6+32.1*(i-29);
  const rowY=r=>r===0?1341.5:1425+87*(r-1);
  const rowLabelX=[1628,1628,1628,1624,1622];
  const rowLabelY=[1387,1476,1558,1639,1733];
  rows.forEach((vals,r)=>{
    vals.forEach((v,i)=>{
      const el=add(g,'rect',{x:colX(i),y:rowY(r),width:colX(i+1)-colX(i)+.4,height:rowY(r+1)-rowY(r)+.4,fill:heatColor(v,1.5),'shape-rendering':'crispEdges'});
      
      
    });
    const t=add(g,'text',{x:rowLabelX[r],y:rowLabelY[r],'font-size':28,'dominant-baseline':'central'},sampleNamesE[r]);
    
    
  });
  const sep=add(g,'line',{x1:colX(29),x2:colX(29),y1:1341,y2:1774,stroke:'#fff','stroke-width':2});
  
  
  geneNames.forEach((n,i)=>{
    const tx=(colX(i)+colX(i+1))/2+4, ty=1784;
    const t=add(g,'text',{x:tx,y:ty,'font-size':27.5,'text-anchor':'end','dominant-baseline':'central',transform:'rotate(-45 '+tx+' '+ty+')'},n);
    
    
  });
})();
</script>
</body>
</html>
